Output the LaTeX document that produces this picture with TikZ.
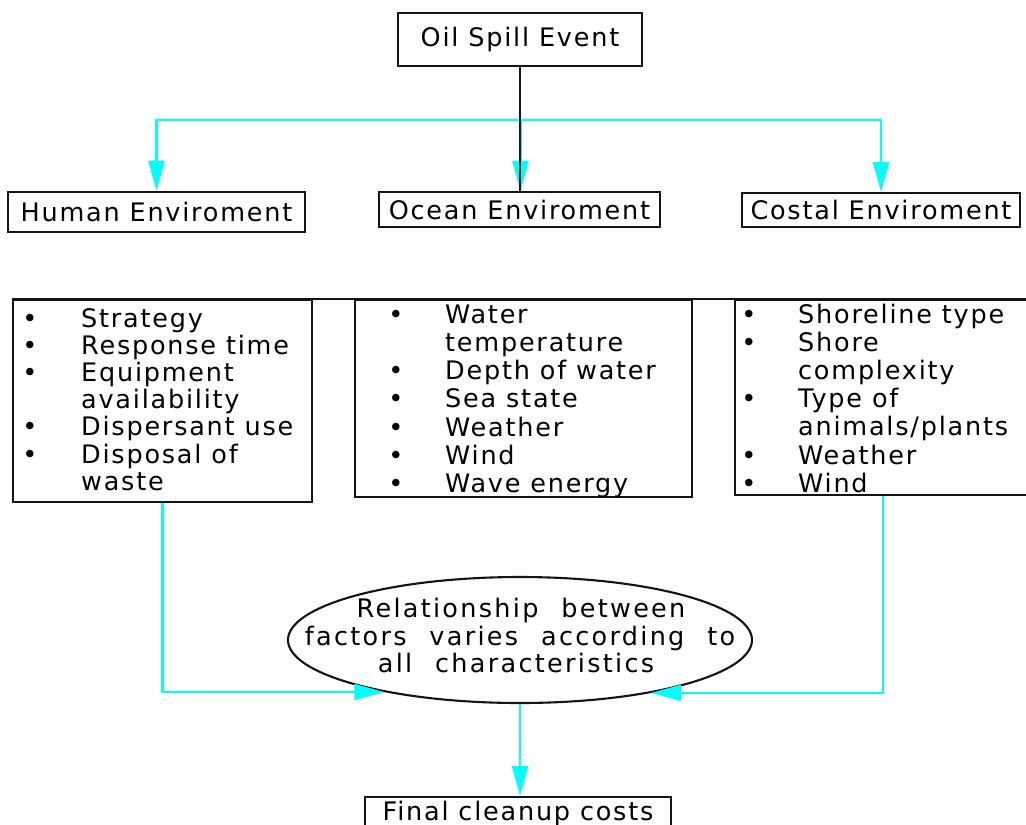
\documentclass[tikz,border=0pt]{standalone}
\usepackage{fontspec}
\setmainfont{DejaVu Sans}[LetterSpace=7]
\newfontfamily\ellfont{DejaVu Sans}[LetterSpace=9,WordSpace=2.2]
\usetikzlibrary{arrows.meta,shapes.geometric}
\definecolor{cy}{RGB}{0,255,255}
\definecolor{ink}{RGB}{20,20,20}
\tikzset{
  box/.style={draw=ink, line width=2.1pt, rectangle, inner sep=0pt, font=\fontsize{25.5}{28}\selectfont},
  txt/.style={inner sep=0pt, font=\fontsize{25.5}{28}\selectfont},
  etxt/.style={inner sep=0pt, font=\ellfont\fontsize{25.5}{28}\selectfont},
  blk/.style={draw=ink, line width=2.1pt},
  cyarr/.style={draw=cy, line width=2.1pt, -{Triangle[length=30pt,width=16pt]}},
}
\newcommand\listlines[5]{%
  \foreach \t [count=\i] in {#5} {\node[txt,anchor=base west] (#1\i) at (#2,{#3+(\i-1)*#4}) {\t};}}
\newcommand\listbullets[5]{%
  \foreach \i in {#5} {\node[txt,anchor=base] (#1b\i) at (#2,{#3+(\i-1)*#4}) {•};}}
\begin{document}
\begin{tikzpicture}[x=1pt,y=-1pt]
\useasboundingbox[fill=white] (0,0) rectangle (1026,825);
% top level
\node[box,minimum width=244pt,minimum height=53pt] (oil) at (520,39.5) {Oil Spill Event};
\node[box,minimum width=297pt,minimum height=40pt] (human) at (156.5,212) {Human Enviroment};
\node[box,minimum width=281pt,minimum height=35pt] (ocean) at (519.5,209.5) {Ocean Enviroment};
\node[box,minimum width=278pt,minimum height=34pt] (costal) at (881,210) {Costal Enviroment};
\coordinate (hub) at (520.5,120);
\draw[cyarr] (hub) -| (human.north);
\draw[cyarr] (hub) -| (costal.north);
\draw[cyarr] (hub) -- (hub |- ocean.north);
\draw[blk] (oil.south) -- (oil.south |- ocean.north);
% factor boxes
\node[box,minimum width=299pt,minimum height=202pt] (lbox) at (162.5,401) {};
\node[box,minimum width=337pt,minimum height=197pt] (mbox) at (523.5,398.5) {};
\node[box,minimum width=296pt,minimum height=195pt] (rbox) at (883,397.5) {};
\draw[blk] (lbox.north west) -- (rbox.north east);
\listlines{L}{81}{327}{27.2}{Strategy,Response time,Equipment,availability,Dispersant use,Disposal of,waste}
\listbullets{L}{30}{327}{27.2}{1,2,3,5,6}
\listlines{M}{445}{323}{28.3}{Water,temperature,Depth of water,Sea state,Weather,Wind,Wave energy}
\listbullets{M}{396}{323}{28.3}{1,3,4,5,6,7}
\listlines{R}{798}{323}{28.2}{Shoreline type,Shore,complexity,Type of,animals/plants,Weather,Wind}
\listbullets{R}{749}{323}{28.2}{1,2,4,6,7}
% ellipse
\node[draw=ink,line width=2.1pt,ellipse,inner sep=0pt,minimum width=464pt,minimum height=126pt] (ell) at (520,640) {};
\node[etxt,anchor=base] (e1) at (521,617) {Relationship between};
\node[etxt,anchor=base] (e2) at (520,645) {factors varies according to};
\node[etxt,anchor=base] (e3) at (516,672) {all characteristics};
\draw[cyarr] (lbox.south) |- (ell.201.6);
\draw[cyarr] (rbox.south) |- (ell.338.4);
% final
\node[box,minimum width=306pt,minimum height=32pt] (final) at (518,813) {Final cleanup costs};
\draw[cyarr] (ell.south) -- (ell.south |- final.north);
\end{tikzpicture}
\end{document}
